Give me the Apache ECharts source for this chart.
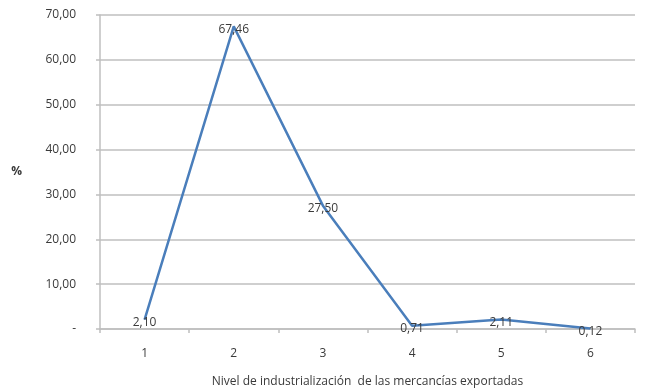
<!DOCTYPE html>
<html>
<head>
<meta charset="utf-8">
<script src="https://cdn.jsdelivr.net/npm/echarts@6/dist/echarts.min.js"></script>
<style>
  html, body { margin: 0; padding: 0; background: #fff; }
  #chart { width: 646px; height: 390px; }
</style>
</head>
<body>
<div id="chart"></div>
<script>
// Industrialization level of exported goods (share, %)
const categories = ['1', '2', '3', '4', '5', '6'];
const shares = [2.10, 67.46, 27.50, 0.71, 2.11, 0.12];
const xTitle = 'Nivel de industrialización  de las mercancías exportadas';
const yTitle = '%';

const fmt = v => v.toFixed(2).replace('.', ',');
const textColor = '#3a3a3a';
const font = '"Open Sans", "Liberation Sans", sans-serif';

const chart = echarts.init(document.getElementById('chart'), null, { renderer: 'canvas' });
chart.setOption({
  animation: false,
  grid: { left: 100, right: 11, top: 15, bottom: 61, containLabel: false, outerBoundsMode: 'none' },
  xAxis: {
    type: 'category',
    data: categories,
    boundaryGap: true,
    name: xTitle,
    nameLocation: 'middle',
    nameGap: 47,
    nameTextStyle: { color: textColor, fontFamily: font, fontSize: 12 },
    axisLine: { lineStyle: { color: '#bfbfbf', width: 1.5 } },
    axisTick: { show: true, length: 4, lineStyle: { color: '#bfbfbf', width: 1.5 } },
    axisLabel: { color: textColor, fontFamily: font, fontSize: 12, margin: 19 }
  },
  yAxis: {
    type: 'value',
    min: 0,
    max: 70,
    interval: 10,
    name: yTitle,
    nameLocation: 'middle',
    nameRotate: 0,
    nameGap: 78,
    nameTextStyle: { color: textColor, fontFamily: font, fontSize: 12, fontWeight: 'bold' },
    axisLine: { show: true, lineStyle: { color: '#bfbfbf', width: 1.5 } },
    axisTick: { show: true, length: 4, lineStyle: { color: '#bfbfbf', width: 1.5 } },
    splitLine: { show: true, lineStyle: { color: '#bfbfbf', width: 1.5 } },
    axisLabel: {
      color: textColor, fontFamily: font, fontSize: 12, margin: 24,
      formatter: v => v === 0 ? '-' : fmt(v)
    }
  },
  series: [{
    type: 'line',
    data: shares,
    symbol: 'circle',
    symbolSize: 0.5,
    showSymbol: true,
    itemStyle: { color: '#4a7ebb' },
    lineStyle: { color: '#4a7ebb', width: 2.5 },
    label: {
      show: true,
      position: 'top',
      distance: 0,
      offset: [0, 9],
      color: textColor,
      fontFamily: font,
      fontSize: 12,
      formatter: p => fmt(p.value)
    }
  }]
});
</script>
</body>
</html>
